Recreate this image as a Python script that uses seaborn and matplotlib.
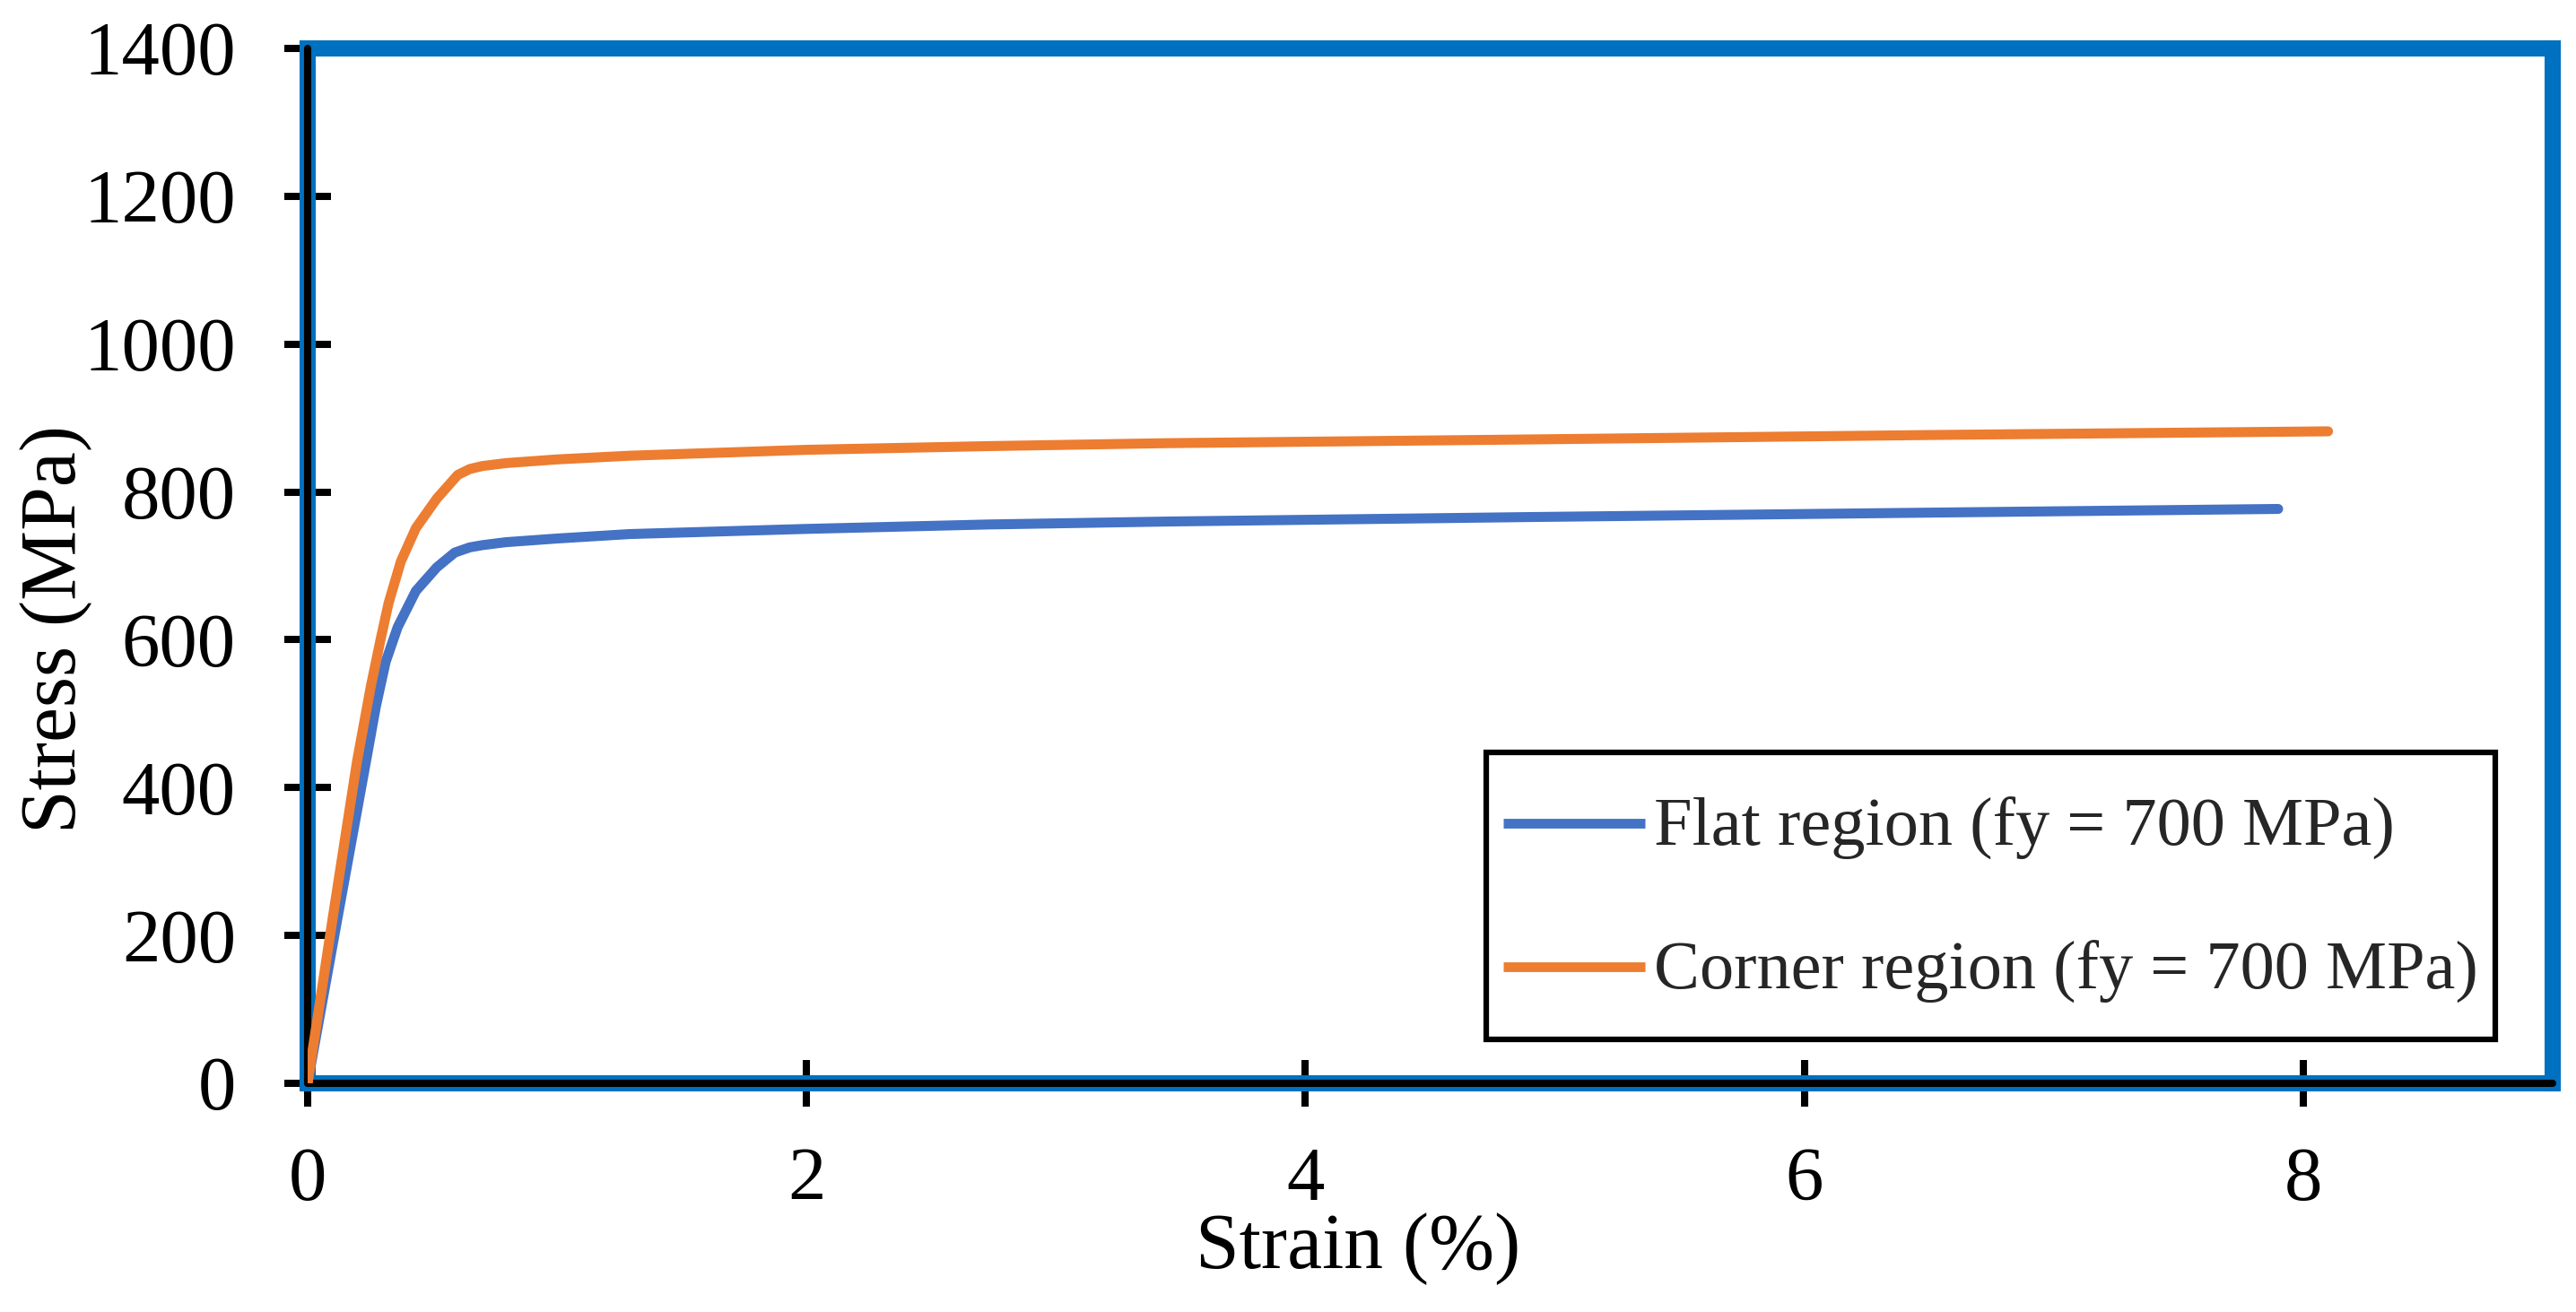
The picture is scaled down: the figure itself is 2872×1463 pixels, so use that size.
import matplotlib
matplotlib.use("Agg")
import matplotlib.pyplot as plt
from matplotlib.lines import Line2D
import numpy as np
import seaborn as sns
import pandas as pd

# ---- data ----
flat_strain = [0, 0.117, 0.234, 0.274, 0.313, 0.361, 0.434, 0.518, 0.590, 0.65,
               0.70, 0.794, 1.0, 1.29, 2.0, 2.73, 3.45, 4.89, 6.5, 7.9]
flat_stress = [0, 218, 435, 510, 570, 617, 666, 698, 718, 725,
               728, 732, 737, 743, 750, 756, 760, 766, 772, 777]

corner_strain = [0, 0.10, 0.198, 0.253, 0.293, 0.325, 0.374, 0.434, 0.518, 0.602,
                 0.65, 0.70, 0.794, 1.0, 1.29, 2.0, 2.73, 3.45, 4.89, 6.5, 8.1]
corner_stress = [0, 222, 435, 536, 601, 650, 706, 751, 791, 823,
                 831, 835, 839, 844, 849, 857, 862, 866, 871, 877, 882]

series_names = ["Flat region (fy = 700 MPa)", "Corner region (fy = 700 MPa)"]
series_colors = ["#4472C4", "#ED7D31"]

x_ticks = [0, 2, 4, 6, 8]
y_ticks = [0, 200, 400, 600, 800, 1000, 1200, 1400]
x_label = "Strain (%)"
y_label = "Stress (MPa)"

df = pd.concat([
    pd.DataFrame({"strain": flat_strain, "stress": flat_stress, "series": series_names[0]}),
    pd.DataFrame({"strain": corner_strain, "stress": corner_stress, "series": series_names[1]}),
], ignore_index=True)

sns.set_theme(style="white")
plt.rcParams["font.family"] = ["Liberation Serif", "DejaVu Serif"]

fig = plt.figure(figsize=(28.72, 14.63), dpi=100)
ax = fig.add_axes([0.1194, 0.1743, 0.9909 - 0.1194, 0.9631 - 0.1743])

sns.lineplot(data=df, x="strain", y="stress", hue="series", hue_order=series_names,
             palette=dict(zip(series_names, series_colors)), sort=False, estimator=None,
             linewidth=8, ax=ax, legend=False, zorder=4)

ax.set_xlim(0, 9)
ax.set_ylim(0, 1400)
ax.set_xticks(x_ticks)
ax.set_yticks(y_ticks)

frame_blue = "#0070C0"
for s in ax.spines.values():
    s.set_visible(True)
    s.set_color(frame_blue)
    s.set_linewidth(13)

# black axis lines over the blue frame
ax.axhline(0, color="black", lw=5.8, zorder=2.6, clip_on=False)
ax.axvline(0, color="black", lw=5.8, zorder=2.6, clip_on=False)

ax.tick_params(axis="both", which="major", direction="inout", length=37.4, width=5.8,
               color="black", labelcolor="black", labelsize=61,
               bottom=True, left=True, top=False, right=False)
ax.tick_params(axis="y", pad=38.9)
ax.tick_params(axis="x", pad=32.5)

ax.set_xlabel(x_label, fontsize=63, color="black")
ax.set_ylabel(y_label, fontsize=63, color="black")
ax.xaxis.set_label_coords(0.468, -0.125)
ax.yaxis.set_label_coords(-0.096, 0.439)

legend_fs = 55
handles = [Line2D([0], [0], color=c, lw=7.8, solid_capstyle="butt") for c in series_colors]
leg = ax.legend(handles, series_names, loc="lower left",
                bbox_to_anchor=(0.525, 0.0425),
                fontsize=legend_fs, frameon=True, fancybox=False, framealpha=1,
                edgecolor="black", borderpad=0.25, labelspacing=0.49,
                handleheight=2.085, handlelength=2.07, handletextpad=0.13,
                borderaxespad=0)
leg.get_frame().set_linewidth(4.5)
leg.set_zorder(5)
# centre the handle lines on the text
for ln in leg.get_lines():
    ln.set_ydata(np.full_like(np.asarray(ln.get_xdata(), dtype=float), 0.33 * legend_fs))

ax.set_facecolor("white")
fig.patch.set_facecolor("white")
fig.savefig("out.png", dpi=100)
